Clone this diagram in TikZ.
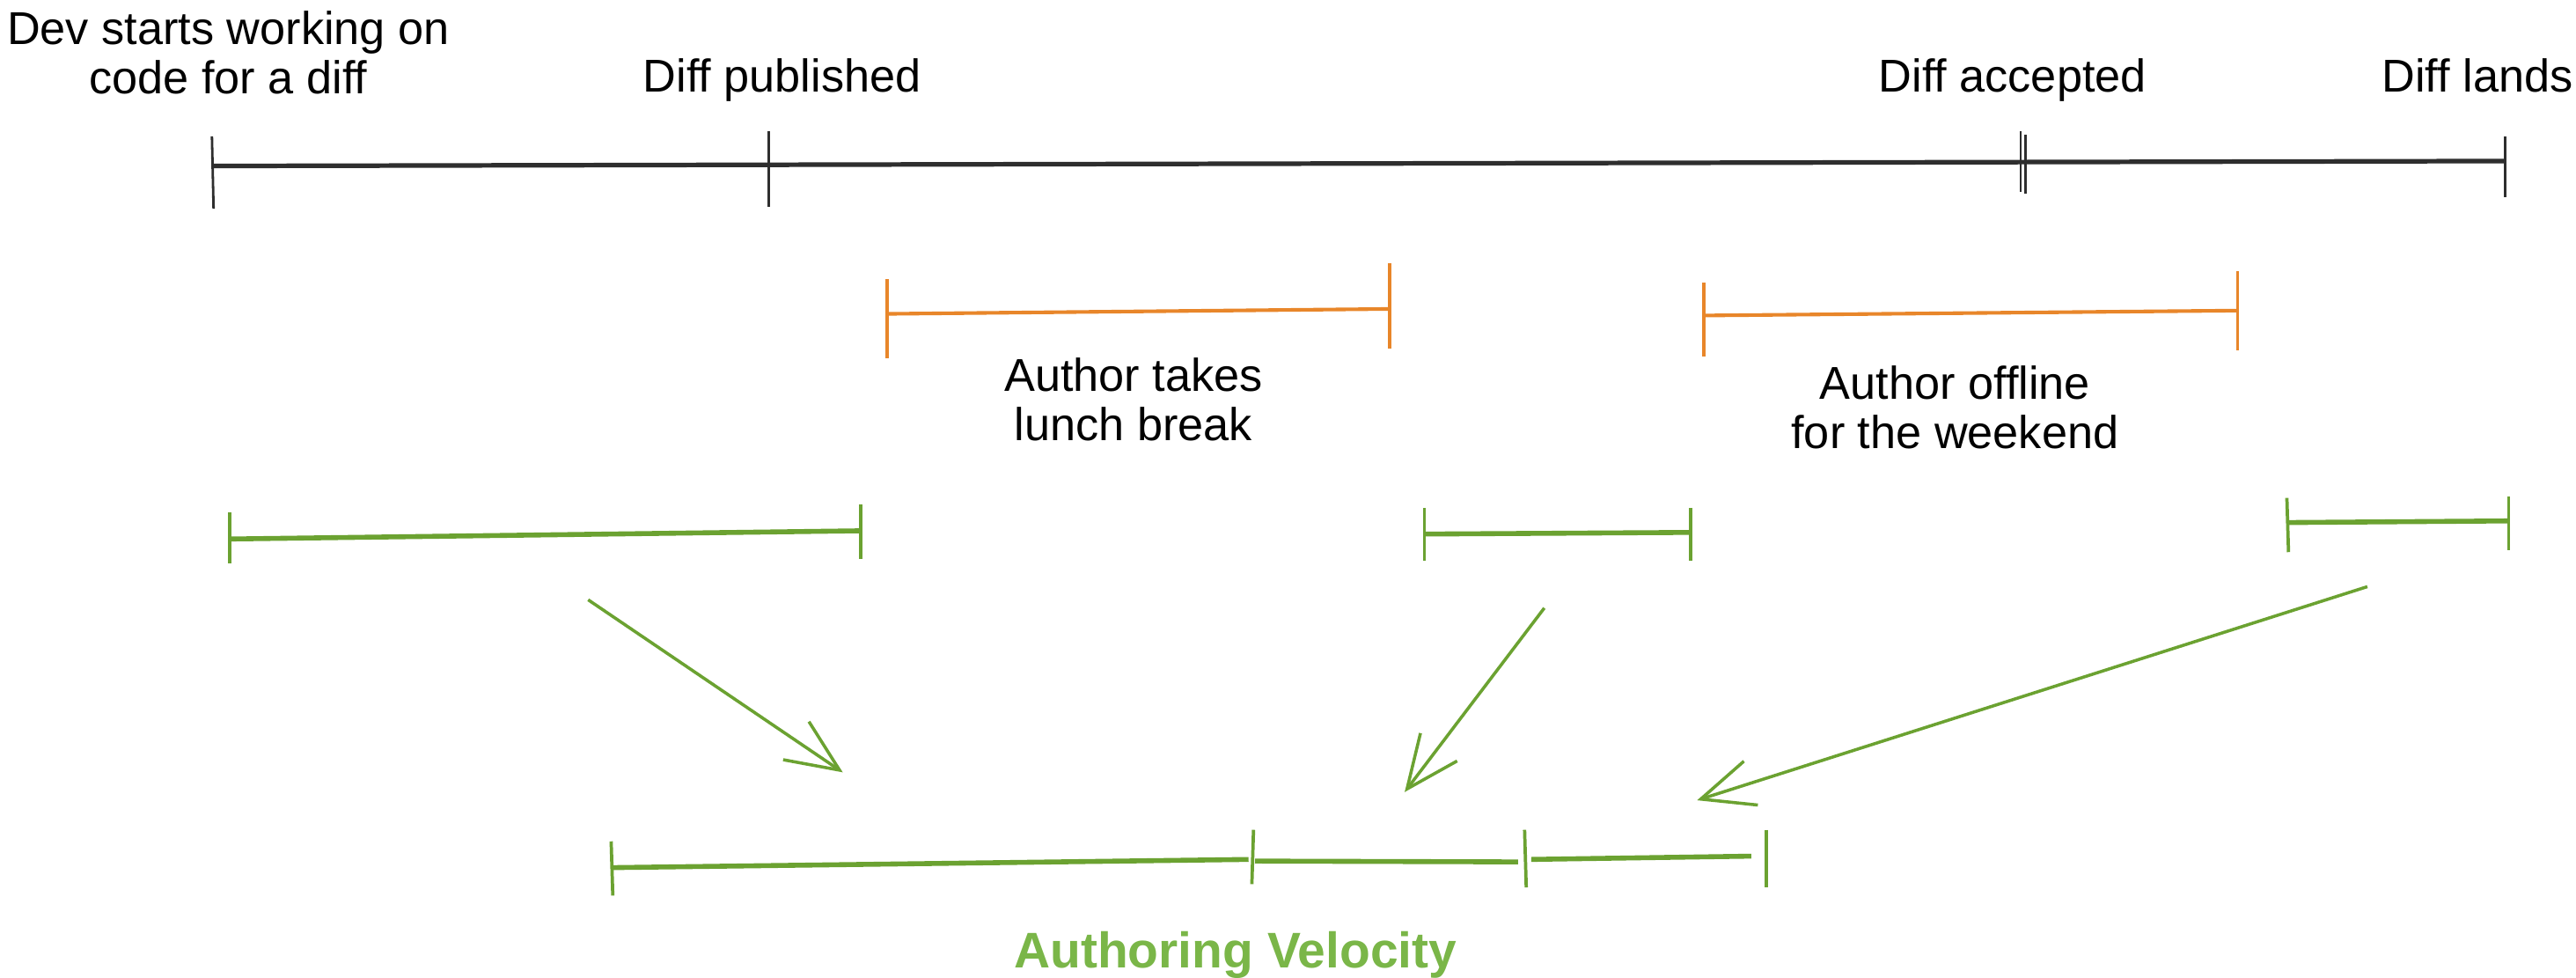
\documentclass[tikz,border=0pt]{standalone}
\usepackage{fontspec}
\setmainfont{Liberation Sans}
\usetikzlibrary{arrows.meta}
\definecolor{tlgray}{HTML}{2E2E2E}
\definecolor{barorange}{HTML}{E8862A}
\definecolor{bargreen}{HTML}{6BA231}
\definecolor{labelgreen}{HTML}{7AB648}
\begin{document}
\begin{tikzpicture}[x=1pt,y=-1pt,
  lbl/.style={inner sep=0pt, align=center, font=\fontsize{28}{30}\selectfont},
  timeline/.style={draw=tlgray, line width=2.8pt},
  ttick/.style={draw=tlgray, line width=1.5pt},
  obar/.style={draw=barorange, line width=2.2pt},
  otick/.style={draw=barorange, line width=2pt},
  gbar/.style={draw=bargreen, line width=3pt},
  gtick/.style={draw=bargreen, line width=2pt},
  flow/.style={draw=bargreen, line width=1.9pt, -{Straight Barb[length=32pt,width=28pt,line width=1.9pt]}}
]
\useasboundingbox (0,0) rectangle (1568,595);

% top labels
\node[lbl] (start) at (139,32) {Dev starts working on\\code for a diff};
\node[lbl, anchor=base] (pub) at (476,56) {Diff published};
\node[lbl, anchor=base] (acc) at (1225,56) {Diff accepted};
\node[lbl, anchor=base] (land) at (1508,56) {Diff lands};

% timeline
\coordinate (t0) at (129,101);
\coordinate (t1) at (468,100.5);
\coordinate (t2) at (1231,99);
\coordinate (t3) at (1525,98);
\draw[timeline] (t0) -- (t3);
\draw[ttick] (129,83) -- (130,127);
\draw[ttick] (468,80) -- (468,126);
\draw[ttick] (1230,80) -- (1230,117);
\draw[ttick] (1233,82) -- (1233,118);
\draw[ttick] (1525,83) -- (1525,120);

% orange bars
\coordinate (o1a) at (540,191);
\coordinate (o1b) at (846,188);
\draw[obar] (o1a) -- (o1b);
\draw[otick] (540,170) -- (540,218);
\draw[otick] (846,160) -- (846,212);
\node[lbl] (lunch) at (690,243) {Author takes\\lunch break};

\coordinate (o2a) at (1037,192);
\coordinate (o2b) at (1362,189);
\draw[obar] (o2a) -- (o2b);
\draw[otick] (1037,172) -- (1037,217);
\draw[otick] (1362,165) -- (1362,213);
\node[lbl] (weekend) at (1190,248) {Author offline\\for the weekend};

% green bars (middle row)
\coordinate (gA1) at (140,328);
\coordinate (gA2) at (524,323);
\draw[gbar] (gA1) -- (gA2);
\draw[gtick] (140,312) -- (140,343);
\draw[gtick] (524,307) -- (524,340);

\coordinate (gB1) at (867,325);
\coordinate (gB2) at (1029,324);
\draw[gbar] (gB1) -- (gB2);
\draw[gtick] (867,309) -- (867,341);
\draw[gtick] (1029,309) -- (1029,341);

\coordinate (gC1) at (1392,318);
\coordinate (gC2) at (1527,317);
\draw[gbar] (gC1) -- (gC2);
\draw[gtick] (1392,303) -- (1393,336);
\draw[gtick] (1527,302) -- (1527,335);

% arrows
\coordinate (a1s) at (358,365);
\coordinate (a1e) at (513,470);
\coordinate (a2s) at (940,370);
\coordinate (a2e) at (855,482);
\coordinate (a3s) at (1441,357);
\coordinate (a3e) at (1033,487);
\draw[flow] (a1s) -- (a1e);
\draw[flow] (a2s) -- (a2e);
\draw[flow] (a3s) -- (a3e);

% bottom bar
\coordinate (b0) at (372,528);
\coordinate (b1) at (760,523);
\coordinate (b2) at (764,524);
\coordinate (b3) at (924,524.5);
\coordinate (b4) at (932,523);
\coordinate (b5) at (1066,521);
\draw[gbar] (b0) -- (b1);
\draw[gbar] (b2) -- (b3);
\draw[gbar] (b4) -- (b5);
\draw[gtick] (372,512) -- (373,545);
\draw[gtick] (763,505) -- (762,538);
\draw[gtick] (928,505) -- (929,540);
\draw[gtick] (1075,505) -- (1075,540);

\node[inner sep=0pt, font=\fontsize{30.5}{32}\selectfont\bfseries, text=labelgreen, anchor=base] (velo) at (752,589) {Authoring Velocity};
\end{tikzpicture}
\end{document}
